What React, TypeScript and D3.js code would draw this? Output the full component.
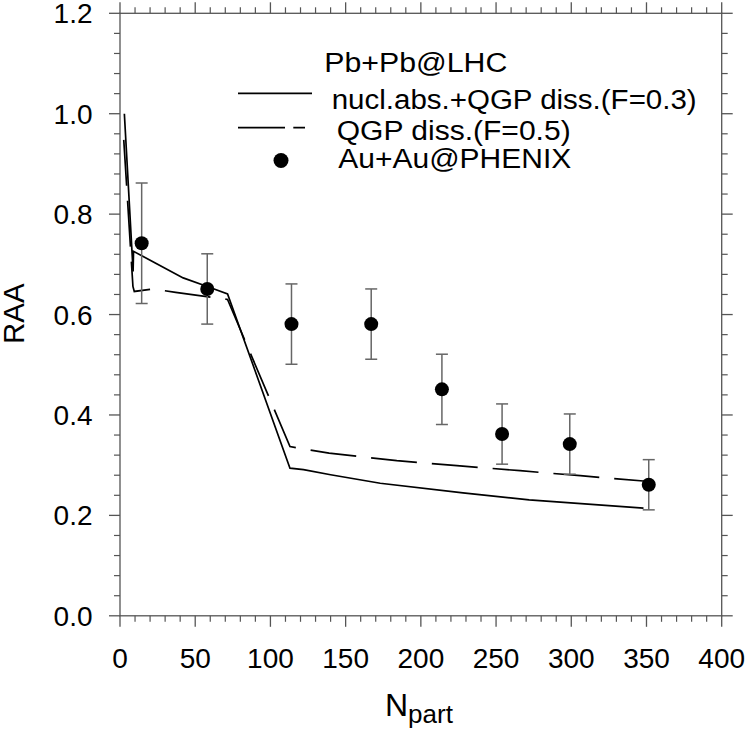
import React from "react";
import * as d3 from "d3";

const solidN = [2.9, 8.7, 9, 25, 42, 58, 71.5, 113, 122, 140, 173, 228, 272, 348];
const solidR = [1.0, 0.686, 0.726, 0.7, 0.673, 0.656, 0.641, 0.294, 0.291, 0.281, 0.264, 0.245, 0.231, 0.2145];

const dashedN = [2.5, 8.6, 9.5, 22, 37, 71.5, 113, 139, 184, 224, 266, 306, 350];
const dashedR = [0.948, 0.656, 0.646, 0.651, 0.644, 0.63, 0.337, 0.324, 0.309, 0.299, 0.289, 0.279, 0.268];

const dataN = [14.4, 58, 114, 167, 214, 254, 299, 351.5];
const dataR = [0.742, 0.651, 0.581, 0.581, 0.451, 0.362, 0.342, 0.261];
const dataErr = [0.12, 0.07, 0.08, 0.07, 0.07, 0.06, 0.06, 0.05];

const xMajor = [0, 50, 100, 150, 200, 250, 300, 350, 400];
const yMajor = [0, 0.2, 0.4, 0.6, 0.8, 1.0, 1.2];

const legendTitle = "Pb+Pb@LHC";
const legendLabels = ["nucl.abs.+QGP diss.(F=0.3)", "QGP diss.(F=0.5)", "Au+Au@PHENIX"];

const FONT = "'Liberation Sans', Arial, Helvetica, sans-serif";

export default function App() {
  const W = 747;
  const H = 732;
  const left = 120, right = 721.7, top = 13.3, bottom = 615.8;
  const x = d3.scaleLinear().domain([0, 400]).range([left, right]);
  const y = d3.scaleLinear().domain([0, 1.2]).range([bottom, top]);

  const line = d3
    .line<[number, number]>()
    .x((d) => x(d[0]))
    .y((d) => y(d[1]));

  const solidPath = line(solidN.map((n, i) => [n, solidR[i]]) as [number, number][]) || "";
  const dashedPath = line(dashedN.map((n, i) => [n, dashedR[i]]) as [number, number][]) || "";

  const xMinor = d3.range(0, 401, 10).filter((v) => v % 50 !== 0);
  const yMinor = d3.range(0, 1.2001, 0.04).filter((v) => Math.abs(v / 0.2 - Math.round(v / 0.2)) > 1e-6);

  const axisColor = "#555";
  const majLen = 11;
  const minLen = 6;

  return (
    <svg width={W} height={H} style={{ position: "absolute", left: 0, top: 0, background: "#fff" }}>
      <rect x={0} y={0} width={W} height={H} fill="#fff" />
      {/* frame */}
      <rect x={left} y={top} width={right - left} height={bottom - top} fill="none" stroke={axisColor} strokeWidth={1.3} />
      {/* x ticks bottom & top */}
      {xMajor.map((v) => (
        <g key={"xm" + v}>
          <line x1={x(v)} x2={x(v)} y1={bottom} y2={bottom + majLen} stroke={axisColor} strokeWidth={1.3} />
          <line x1={x(v)} x2={x(v)} y1={top} y2={top - majLen} stroke={axisColor} strokeWidth={1.3} />
          <text x={x(v)} y={668} textAnchor="middle" fontFamily={FONT} fontSize={28} fill="#000">
            {v}
          </text>
        </g>
      ))}
      {xMinor.map((v) => (
        <g key={"xn" + v}>
          <line x1={x(v)} x2={x(v)} y1={bottom} y2={bottom + minLen} stroke={axisColor} strokeWidth={1.2} />
          <line x1={x(v)} x2={x(v)} y1={top} y2={top - minLen} stroke={axisColor} strokeWidth={1.2} />
        </g>
      ))}
      {/* y ticks left & right */}
      {yMajor.map((v) => (
        <g key={"ym" + v}>
          <line x1={left} x2={left - majLen} y1={y(v)} y2={y(v)} stroke={axisColor} strokeWidth={1.3} />
          <line x1={right} x2={right + majLen} y1={y(v)} y2={y(v)} stroke={axisColor} strokeWidth={1.3} />
          <text x={92.5} y={y(v) + 10} textAnchor="end" fontFamily={FONT} fontSize={28} fill="#000">
            {v.toFixed(1)}
          </text>
        </g>
      ))}
      {yMinor.map((v) => (
        <g key={"yn" + v.toFixed(2)}>
          <line x1={left} x2={left - minLen} y1={y(v)} y2={y(v)} stroke={axisColor} strokeWidth={1.2} />
          <line x1={right} x2={right + minLen} y1={y(v)} y2={y(v)} stroke={axisColor} strokeWidth={1.2} />
        </g>
      ))}
      {/* axis titles */}
      <text x={385} y={716} fontFamily={FONT} fontSize={32} fill="#000">
        N
        <tspan fontSize={26} dy={7}>part</tspan>
      </text>
      <text
        transform={`translate(24,313.7) rotate(-90)`}
        textAnchor="middle"
        fontFamily={FONT}
        fontSize={29.5}
        fill="#000"
      >
        RAA
      </text>

      {/* curves */}
      <path d={solidPath} fill="none" stroke="#000" strokeWidth={1.7} strokeLinejoin="miter" />
      <path d={dashedPath} fill="none" stroke="#000" strokeWidth={1.7} strokeDasharray="46 15" />

      {/* data points */}
      {dataN.map((n, i) => {
        const cx = x(n);
        const yt = y(dataR[i] + dataErr[i]);
        const yb = y(dataR[i] - dataErr[i]);
        return (
          <g key={"p" + i}>
            <line x1={cx} x2={cx} y1={yt} y2={yb} stroke="#666" strokeWidth={1.5} />
            <line x1={cx - 6} x2={cx + 6} y1={yt} y2={yt} stroke="#666" strokeWidth={1.5} />
            <line x1={cx - 6} x2={cx + 6} y1={yb} y2={yb} stroke="#666" strokeWidth={1.5} />
            <circle cx={cx} cy={y(dataR[i])} r={7} fill="#000" />
          </g>
        );
      })}

      {/* legend */}
      <text x={324.3} y={71.7} fontFamily={FONT} fontSize={27} fill="#000" textLength={183} lengthAdjust="spacingAndGlyphs">
        {legendTitle}
      </text>
      <line x1={238} x2={312} y1={93.3} y2={93.3} stroke="#000" strokeWidth={1.7} />
      <text x={331.7} y={109.3} fontFamily={FONT} fontSize={27} fill="#000" textLength={365} lengthAdjust="spacingAndGlyphs">
        {legendLabels[0]}
      </text>
      <path d="M238,127.7H285M293.3,127.7H305" fill="none" stroke="#000" strokeWidth={1.7} />
      <text x={336.7} y={140} fontFamily={FONT} fontSize={27} fill="#000" textLength={234} lengthAdjust="spacingAndGlyphs">
        {legendLabels[1]}
      </text>
      <circle cx={281} cy={160.5} r={7.5} fill="#000" />
      <text x={338.3} y={168.3} fontFamily={FONT} fontSize={27} fill="#000" textLength={233} lengthAdjust="spacingAndGlyphs">
        {legendLabels[2]}
      </text>
    </svg>
  );
}
